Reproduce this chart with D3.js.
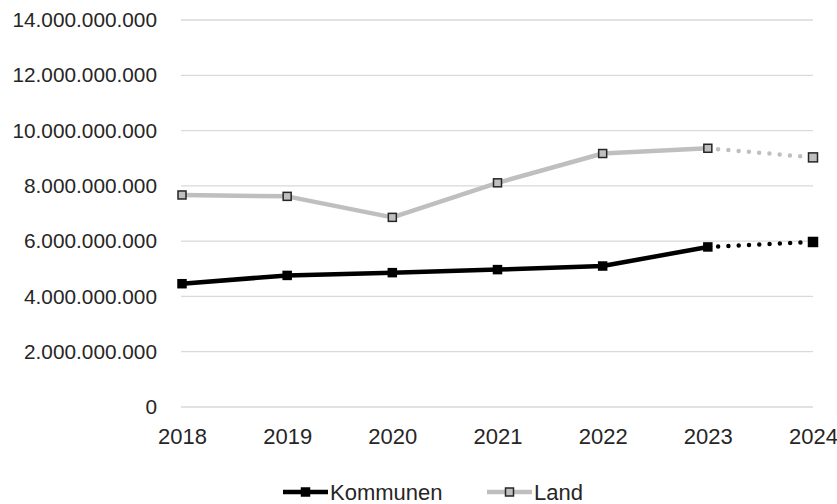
<!DOCTYPE html>
<html>
<head>
<meta charset="utf-8">
<script src="https://cdn.jsdelivr.net/npm/d3@7"></script>
<style>
  html, body { margin: 0; padding: 0; background: #fff; }
  svg { display: block; font-family: "Liberation Sans", Arial, sans-serif; }
</style>
</head>
<body>
<svg id="chart" width="837" height="504"></svg>
<script>
// Jahre und Werte (in Euro)
const years = [2018, 2019, 2020, 2021, 2022, 2023, 2024];
const kommunen = [4.46e9, 4.76e9, 4.86e9, 4.97e9, 5.10e9, 5.79e9, 5.97e9];
const land = [7.67e9, 7.62e9, 6.86e9, 8.11e9, 9.17e9, 9.36e9, 9.03e9];
const yTicks = [0, 2e9, 4e9, 6e9, 8e9, 10e9, 12e9, 14e9];
const seriesNames = ["Kommunen", "Land"];
// letzte Jahr ist eine Prognose: Segment 2023–2024 gepunktet
const forecastFrom = 2023;

const svg = d3.select("#chart");

const x = d3.scalePoint().domain(years).range([182, 813]);
const y = d3.scaleLinear().domain([0, 14e9]).range([407, 20]);

const fmt = v => d3.format(",")(v).replace(/,/g, ".");

// Gitternetz
svg.append("g")
  .selectAll("line")
  .data(yTicks)
  .join("line")
  .attr("x1", 181).attr("x2", 813)
  .attr("y1", d => y(d)).attr("y2", d => y(d))
  .attr("stroke", "#d9d9d9").attr("stroke-width", 1.3);

// y-Achse
const yAxis = svg.append("g")
  .attr("transform", "translate(181,0)")
  .call(d3.axisLeft(y).tickValues(yTicks).tickFormat(fmt).tickSize(0).tickPadding(24));
yAxis.select(".domain").remove();
yAxis.selectAll("text")
  .attr("font-size", 20.8)
  .attr("fill", "#262626")
  .attr("font-family", "Liberation Sans, Arial, sans-serif");

// x-Achse
const xAxis = svg.append("g")
  .attr("transform", "translate(0,407)")
  .call(d3.axisBottom(x).tickSize(0).tickPadding(21));
xAxis.select(".domain").remove();
xAxis.selectAll("text")
  .attr("font-size", 22)
  .attr("fill", "#262626")
  .attr("font-family", "Liberation Sans, Arial, sans-serif");

const series = [
  { name: seriesNames[0], values: kommunen, color: "#000000", fill: "#000000", stroke: "#000000" },
  { name: seriesNames[1], values: land, color: "#bfbfbf", fill: "#bfbfbf", stroke: "#262626" }
];

const line = d3.line().x(d => x(d.year)).y(d => y(d.value));

series.forEach(s => {
  const pts = years.map((yr, i) => ({ year: yr, value: s.values[i] }));
  const solid = pts.filter(p => p.year <= forecastFrom);
  const dotted = pts.filter(p => p.year >= forecastFrom);
  const g = svg.append("g");
  g.append("path")
    .attr("d", line(solid))
    .attr("fill", "none")
    .attr("stroke", s.color)
    .attr("stroke-width", 4.5)
    .attr("stroke-linejoin", "round");
  g.append("path")
    .attr("d", line(dotted))
    .attr("fill", "none")
    .attr("stroke", s.color)
    .attr("stroke-width", 4.5)
    .attr("stroke-linecap", "round")
    .attr("stroke-dasharray", "0 10.3");
  g.selectAll("rect")
    .data(pts)
    .join("rect")
    .attr("x", d => x(d.year) - (d.year > forecastFrom ? 4.5 : 4))
    .attr("y", d => y(d.value) - (d.year > forecastFrom ? 4.5 : 4))
    .attr("width", d => d.year > forecastFrom ? 9 : 8)
    .attr("height", d => d.year > forecastFrom ? 9 : 8)
    .attr("fill", s.fill)
    .attr("stroke", s.stroke)
    .attr("stroke-width", 1.5);
});

// Legende
const legendPos = [283, 487];
const legend = svg.append("g");
series.forEach((s, i) => {
  const lx = legendPos[i];
  const g = legend.append("g").attr("transform", `translate(${lx},492)`);
  g.append("line")
    .attr("x1", 0).attr("x2", 45).attr("y1", 0).attr("y2", 0)
    .attr("stroke", s.color).attr("stroke-width", 4.5);
  g.append("rect")
    .attr("x", 18.5).attr("y", -4).attr("width", 8).attr("height", 8)
    .attr("fill", s.fill).attr("stroke", s.stroke).attr("stroke-width", 1.5);
  g.append("text")
    .attr("x", 47).attr("y", 8)
    .attr("font-size", 22)
    .attr("fill", "#262626")
    .text(s.name);
});
</script>
</body>
</html>
